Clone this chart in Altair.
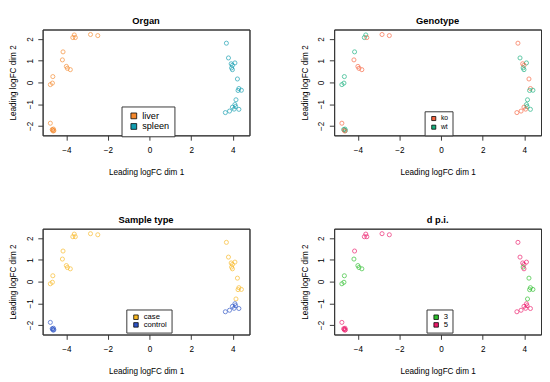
import altair as alt
import pandas as pd

# ---- data (same 38 samples in every panel) ----
x_vals = [-3.62, -3.69, -3.57, -2.84, -2.49, -4.16, -4.19, -4.00, -3.95, -3.81,
          -4.65, -4.67, -4.77, -4.77, -4.62, -4.66, -4.60, -4.68, -4.63,
          3.69, 3.79, 3.92, 4.10, 3.98, 3.94, 3.98, 4.22, 4.29, 4.41,
          4.25, 4.15, 4.10, 3.98, 4.13, 4.29, 4.06, 3.84, 3.64]
y_vals = [2.19, 2.07, 2.07, 2.21, 2.16, 1.41, 1.04, 0.74, 0.65, 0.59,
          0.27, -0.03, -0.10, -1.88, -2.15, -2.20, -2.22, -2.17, -2.24,
          1.81, 1.13, 0.86, 0.90, 0.79, 0.67, 0.59, 0.16, -0.28, -0.36,
          -0.37, -0.80, -1.02, -1.14, -1.11, -1.24, -1.23, -1.32, -1.39]
organ = ["liver"] * 19 + ["spleen"] * 19
genotype = ["wt", "wt", "ko", "ko", "ko", "wt", "ko", "ko", "ko", "ko",
            "wt", "wt", "wt", "ko", "wt", "ko", "wt", "wt", "ko",
            "ko", "wt", "ko", "wt", "ko", "wt", "wt", "ko", "ko", "wt",
            "wt", "wt", "wt", "ko", "wt", "wt", "ko", "ko", "ko"]
sample_type = ["case"] * 13 + ["control"] * 6 + ["case"] * 12 + ["control"] * 7
dpi = ["5", "5", "5", "5", "5", "5", "3", "3", "3", "3",
       "3", "3", "3", "5", "5", "5", "5", "5", "5",
       "5", "5", "5", "5", "5", "3", "5", "3", "3", "3",
       "3", "3", "5", "5", "5", "5", "5", "5", "5"]

organ_levels = ["liver", "spleen"]
organ_colors = ["#F5892E", "#139DB0"]
geno_levels = ["ko", "wt"]
geno_colors = ["#F8643F", "#17B07E"]
type_levels = ["case", "control"]
type_colors = ["#F9B823", "#2F55C6"]
dpi_levels = ["3", "5"]
dpi_colors = ["#2DBE2D", "#EC1A6A"]

df = pd.DataFrame({"x": x_vals, "y": y_vals, "organ": organ,
                   "genotype": genotype, "stype": sample_type, "dpi": dpi})

FONT = "Liberation Sans"
W, H = 215, 110
FRAME = "#333333"
XSCALE = alt.Scale(domain=[-5.14, 4.8], nice=False, zero=False)
YSCALE = alt.Scale(domain=[-2.44, 2.44], nice=False, zero=False)


def panel(field, title, levels, colors, lx, ly, lfs, sym, pad, soff):
    x_main = alt.X("x:Q", scale=XSCALE,
                   axis=alt.Axis(orient="bottom", values=[-4, -2, 0, 2, 4],
                                 title="Leading logFC dim 1",
                                 domain=True, domainColor=FRAME, domainWidth=1,
                                 grid=False, tickSize=5, tickColor=FRAME,
                                 labelFontSize=8.5, labelFont=FONT, labelColor="black",
                                 labelPadding=6, titlePadding=14, titleFont=FONT,
                                 titleFontSize=8.5, titleFontWeight="normal",
                                 titleColor="black"))
    y_main = alt.Y("y:Q", scale=YSCALE,
                   axis=alt.Axis(orient="left", values=[-2, -1, 0, 1, 2],
                                 title="Leading logFC dim 2",
                                 domain=True, domainColor=FRAME, domainWidth=1,
                                 grid=False, tickSize=5, tickColor=FRAME,
                                 labelAngle=270, labelAlign="center", labelBaseline="bottom",
                                 labelFontSize=8.5, labelFont=FONT, labelColor="black",
                                 labelPadding=4, titlePadding=8, titleFont=FONT,
                                 titleFontSize=8.5, titleFontWeight="normal",
                                 titleColor="black"))
    # top / right axes carry only their domain line, closing the box around the plot
    x_top = alt.X("x:Q", scale=XSCALE,
                  axis=alt.Axis(orient="top", title=None, labels=False, ticks=False,
                                grid=False, domain=True, domainColor=FRAME, domainWidth=1))
    y_right = alt.Y("y:Q", scale=YSCALE,
                    axis=alt.Axis(orient="right", title=None, labels=False, ticks=False,
                                  grid=False, domain=True, domainColor=FRAME, domainWidth=1))

    pts = alt.Chart(df).mark_point(shape="circle", filled=False, size=18, strokeWidth=1).encode(
        x=x_main, y=y_main,
        # reversed domain order keeps this (hidden) legend from merging with the fill legend
        stroke=alt.Stroke(f"{field}:N",
                          scale=alt.Scale(domain=levels[::-1], range=colors[::-1]),
                          legend=None))
    leg = alt.Chart(df).mark_point(shape="square", filled=True, opacity=0).encode(
        x=x_top, y=y_right,
        fill=alt.Fill(f"{field}:N", scale=alt.Scale(domain=levels, range=colors),
                      legend=alt.Legend(title=None, orient="none", legendX=lx, legendY=ly,
                                        symbolType="square", symbolSize=sym,
                                        symbolStrokeColor="black", symbolStrokeWidth=0.8,
                                        symbolOpacity=1, symbolOffset=soff,
                                        labelFontSize=lfs, labelFont=FONT,
                                        labelColor="black", labelOffset=4,
                                        rowPadding=0, padding=pad,
                                        strokeColor=FRAME, fillColor="white")))
    return alt.layer(pts, leg).properties(
        width=W, height=H,
        title=alt.TitleParams(title, fontSize=9.7, fontWeight="bold", font=FONT,
                              anchor="middle", offset=4, color="black"))


p1 = panel("organ", "Organ", organ_levels, organ_colors, 82, 80, 9.5, 36, 5, 3)
p2 = panel("genotype", "Genotype", geno_levels, geno_colors, 94, 85, 7, 18, 4, 2)
p3 = panel("stype", "Sample type", type_levels, type_colors, 87, 84, 8, 22, 4, 2)
p4 = panel("dpi", "d p.i.", dpi_levels, dpi_colors, 96, 84, 8, 22, 4, 2)

top = alt.hconcat(p1, p2, spacing=51).resolve_scale(stroke="independent", fill="independent")
bottom = alt.hconcat(p3, p4, spacing=51).resolve_scale(stroke="independent", fill="independent")
chart = alt.vconcat(top, bottom, spacing=39).resolve_scale(
    stroke="independent", fill="independent"
).properties(padding=0).configure_view(stroke=FRAME)

chart.save("out.html", embed_options={"renderer": "svg", "actions": False})
